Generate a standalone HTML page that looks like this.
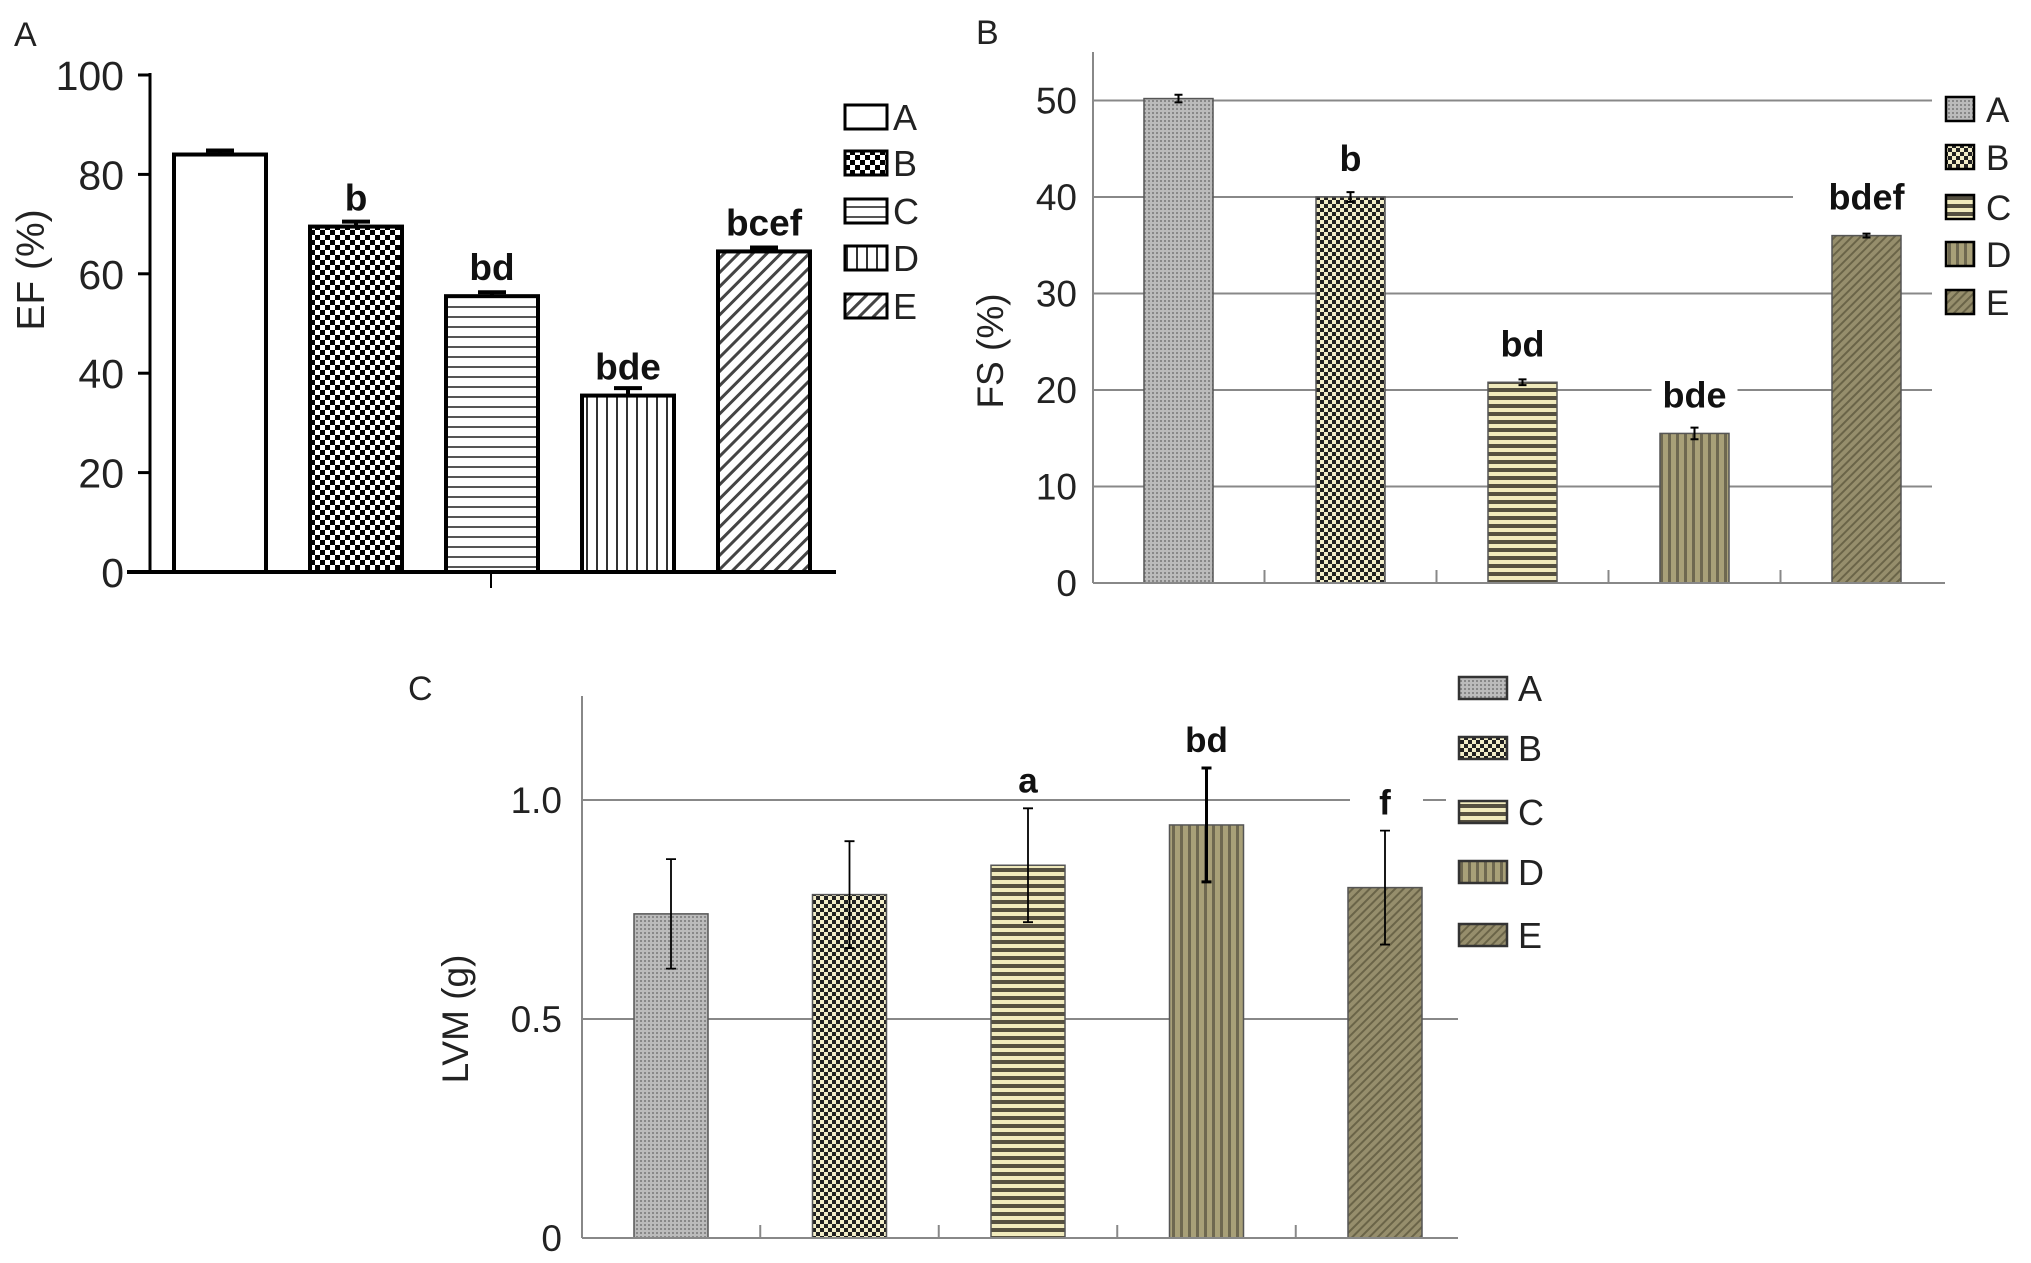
<!DOCTYPE html>
<html><head><meta charset="utf-8"><style>
html,body{margin:0;padding:0;background:#fff;}
svg{display:block;font-family:"Liberation Sans",sans-serif;}
</style></head><body>
<svg id="fig" width="2031" height="1263" viewBox="0 0 2031 1263" xmlns="http://www.w3.org/2000/svg">
<defs>
 <pattern id="pA_B" width="10" height="10" patternUnits="userSpaceOnUse"><rect width="10" height="10" fill="#fff"/><rect width="5" height="5" fill="#000"/><rect x="5" y="5" width="5" height="5" fill="#000"/></pattern>
 <pattern id="pA_C" width="10" height="10" patternUnits="userSpaceOnUse"><rect width="10" height="10" fill="#fff"/><rect y="6" width="10" height="2" fill="#555"/></pattern>
 <pattern id="pA_D" width="10" height="10" patternUnits="userSpaceOnUse"><rect width="10" height="10" fill="#fff"/><rect x="6" width="2" height="10" fill="#333"/></pattern>
 <pattern id="pA_E" width="10" height="10" patternUnits="userSpaceOnUse" patternTransform="rotate(45)"><rect width="10" height="10" fill="#fff"/><rect width="3" height="10" fill="#444"/></pattern>
 <pattern id="pB_A" width="4" height="4" patternUnits="userSpaceOnUse"><rect width="4" height="4" fill="#bbb"/><rect width="2" height="2" fill="#888"/></pattern>
 <pattern id="pB_B" width="8" height="8" patternUnits="userSpaceOnUse"><rect width="8" height="8" fill="#f2edc8"/><rect width="4" height="4" fill="#222"/><rect x="4" y="4" width="4" height="4" fill="#222"/></pattern>
 <pattern id="pB_C" width="8" height="8" patternUnits="userSpaceOnUse"><rect width="8" height="8" fill="#f0eabc"/><rect y="4" width="8" height="4" fill="#555040"/></pattern>
 <pattern id="pB_D" width="8" height="8" patternUnits="userSpaceOnUse"><rect width="8" height="8" fill="#a8a078"/><rect x="4" width="3" height="8" fill="#6e6850"/></pattern>
 <pattern id="pB_E" width="6" height="6" patternUnits="userSpaceOnUse" patternTransform="rotate(45)"><rect width="6" height="6" fill="#968e6c"/><rect width="2" height="6" fill="#6a6448"/></pattern>
</defs>
<g id="gA"></g>
<g id="gB"></g>
<g id="gC"></g>
</svg>
<script>
// ---- data ----
const groups = ["A","B","C","D","E"];
const efValues = [84, 69.5, 55.5, 35.5, 64.5];
const efErrors = [0.8, 1.0, 0.8, 1.5, 0.8];
const efLabels = ["", "b", "bd", "bde", "bcef"];
const efTicks = [0, 20, 40, 60, 80, 100];
const fsValues = [50.2, 40, 20.8, 15.5, 36];
const fsErrors = [0.4, 0.5, 0.3, 0.6, 0.2];
const fsLabels = ["", "b", "bd", "bde", "bdef"];
const fsTicks = [0, 10, 20, 30, 40, 50];
const lvmValues = [0.74, 0.784, 0.851, 0.943, 0.80];
const lvmErrors = [0.125, 0.122, 0.13, 0.13, 0.13];
const lvmLabels = ["", "", "a", "bd", "f"];
const lvmTicks = [0, 0.5, 1.0];
const lvmTickText = ["0", "0.5", "1.0"];

const NS = "http://www.w3.org/2000/svg";
function mk(parent, tag, attrs, text){
  const e = document.createElementNS(NS, tag);
  for (const k in attrs) e.setAttribute(k, attrs[k]);
  if (text !== undefined) e.textContent = text;
  parent.appendChild(e);
  return e;
}

// ---- Panel A ----
(function(){
  const g = document.getElementById('gA');
  const y0 = 572, yTop = 75, vmax = 100;
  const y = v => y0 - (y0 - yTop) * v / vmax;
  const x = i => 174 + i * 136;
  const bw = 92;
  const fills = ["#fff","url(#pA_B)","url(#pA_C)","url(#pA_D)","url(#pA_E)"];
  let t = mk(g,'text',{x:14,y:46,'font-size':34,fill:'#222'},'A');
   
  efTicks.forEach(v=>{
    const l = mk(g,'line',{x1:138,x2:150,y1:y(v),y2:y(v),stroke:'#000','stroke-width':3});
     
    const tx = mk(g,'text',{x:124,y:y(v)+15,'font-size':41,'text-anchor':'end',fill:'#222'},String(v));
     
  });
  let a = mk(g,'line',{x1:150,x2:150,y1:yTop-2,y2:y0,stroke:'#000','stroke-width':3});
   
  a = mk(g,'text',{x:0,y:0,'font-size':39,'text-anchor':'middle',fill:'#222',transform:'translate(44,270) rotate(-90)'},'EF (%)');
   
  efValues.forEach((v,i)=>{
    const r = mk(g,'rect',{x:x(i),y:y(v),width:bw,height:y0-y(v),fill:fills[i],stroke:'#000','stroke-width':4});
     
    const cx = x(i)+bw/2;
    const e = mk(g,'path',{d:`M${cx-14},${y(v+efErrors[i])}H${cx+14}M${cx},${y(v+efErrors[i])}V${y(v)}`,stroke:'#000','stroke-width':4});
     
    if (efLabels[i]) {
      const lb = mk(g,'text',{x:cx,y:y(v)-16,'font-size':37,'font-weight':'bold','text-anchor':'middle',fill:'#111'},efLabels[i]);
       
    }
  });
  a = mk(g,'line',{x1:127,x2:836,y1:y0,y2:y0,stroke:'#000','stroke-width':4});
   
  mk(g,'line',{x1:491,x2:491,y1:y0,y2:588,stroke:'#000','stroke-width':2});
  const ly = [117,163,211,258,306];
  groups.forEach((k,i)=>{
    const b = mk(g,'rect',{x:845,y:ly[i]-12,width:42,height:24,fill:fills[i],stroke:'#000','stroke-width':3});
     
    const lt = mk(g,'text',{x:893,y:ly[i]+13,'font-size':36,fill:'#222'},k);
     
  });
})();

// ---- Panel B ----
(function(){
  const g = document.getElementById('gB');
  const y0 = 583, vmax = 50, yMax = 100.5;
  const y = v => y0 - (y0 - yMax) * v / vmax;
  const x = i => 1144 + i * 172;
  const bw = 69;
  const fills = ["url(#pB_A)","url(#pB_B)","url(#pB_C)","url(#pB_D)","url(#pB_E)"];
  let t = mk(g,'text',{x:976,y:44,'font-size':34,fill:'#222'},'B');
   
  fsTicks.forEach(v=>{
    if (v>0){
      const l = mk(g,'line',{x1:1093,x2:(v===40?1793:1932),y1:y(v),y2:y(v),stroke:'#888','stroke-width':2});
       
    }
    const tx = mk(g,'text',{x:1077,y:y(v)+13,'font-size':37,'text-anchor':'end',fill:'#222'},String(v));
     
  });
  let a = mk(g,'line',{x1:1093,x2:1093,y1:52,y2:y0,stroke:'#888','stroke-width':2});
   
  a = mk(g,'text',{x:0,y:0,'font-size':37,'text-anchor':'middle',fill:'#222',transform:'translate(1003,351) rotate(-90)'},'FS (%)');
   
  fsValues.forEach((v,i)=>{
    const cx = x(i)+bw/2;
    if (fsLabels[i]) {
      const tw = fsLabels[i].length*22+20;
      mk(g,'rect',{x:cx-tw/2,y:y(v)-64,width:tw,height:46,fill:'#fff'});
    }
    const r = mk(g,'rect',{x:x(i),y:y(v),width:bw,height:y0-y(v),fill:fills[i],stroke:'#555','stroke-width':1.5});
     
    const e = mk(g,'path',{d:`M${cx-4},${y(v+fsErrors[i])}H${cx+4}M${cx-4},${y(v-fsErrors[i])}H${cx+4}M${cx},${y(v+fsErrors[i])}V${y(v-fsErrors[i])}`,stroke:'#000','stroke-width':2});
     
    if (fsLabels[i]) {
      const lb = mk(g,'text',{x:cx,y:y(v)-26,'font-size':36,'font-weight':'bold','text-anchor':'middle',fill:'#111'},fsLabels[i]);
       
    }
  });
  a = mk(g,'line',{x1:1093,x2:1945,y1:y0,y2:y0,stroke:'#888','stroke-width':2});
   
  for (let i=0;i<4;i++){ const xt=(x(i)+bw+x(i+1))/2; mk(g,'line',{x1:xt,x2:xt,y1:y0-13,y2:y0,stroke:'#888','stroke-width':2}); }
  const ly = [109,157,207,254,302];
  groups.forEach((k,i)=>{
    mk(g,'rect',{x:1940,y:ly[i]-18,width:40,height:36,fill:'#fff'});
    const b = mk(g,'rect',{x:1946,y:ly[i]-12,width:28,height:24,fill:fills[i],stroke:'#000','stroke-width':2.5});
     
    const lt = mk(g,'text',{x:1986,y:ly[i]+13,'font-size':35,fill:'#222'},k);
     
  });
})();

// ---- Panel C ----
(function(){
  const g = document.getElementById('gC');
  const y0 = 1238, per1 = 438;
  const y = v => y0 - per1 * v;
  const x = i => 634 + i * 178.5;
  const bw = 74;
  const fills = ["url(#pB_A)","url(#pB_B)","url(#pB_C)","url(#pB_D)","url(#pB_E)"];
  let t = mk(g,'text',{x:408,y:700,'font-size':34,fill:'#222'},'C');
   
  lvmTicks.forEach((v,i)=>{
    if (v>0){
      const l = mk(g,'line',{x1:582,x2:(v===1?1350:1458),y1:y(v),y2:y(v),stroke:'#888','stroke-width':2});
       
      if (v===1) mk(g,'line',{x1:1423,x2:1446,y1:y(v),y2:y(v),stroke:'#888','stroke-width':2});
    }
    const tx = mk(g,'text',{x:562,y:y(v)+13,'font-size':37,'text-anchor':'end',fill:'#222'},lvmTickText[i]);
     
  });
  let a = mk(g,'line',{x1:582,x2:582,y1:696,y2:y0,stroke:'#888','stroke-width':2});
   
  a = mk(g,'text',{x:0,y:0,'font-size':37,'text-anchor':'middle',fill:'#222',transform:'translate(468,1019) rotate(-90)'},'LVM (g)');
   
  lvmValues.forEach((v,i)=>{
    const cx = x(i)+bw/2;
    const r = mk(g,'rect',{x:x(i),y:y(v),width:bw,height:y0-y(v),fill:fills[i],stroke:'#555','stroke-width':1.5});
     
    const hi=y(v+lvmErrors[i]), lo=y(v-lvmErrors[i]);
    const e = mk(g,'path',{d:`M${cx-5},${hi}H${cx+5}M${cx-5},${lo}H${cx+5}M${cx},${hi}V${lo}`,stroke:'#000','stroke-width':i===3?3:1.8});
     
    if (lvmLabels[i]) {
      const lb = mk(g,'text',{x:cx,y:hi-16,'font-size':35,'font-weight':'bold','text-anchor':'middle',fill:'#111'},lvmLabels[i]);
       
    }
  });
  a = mk(g,'line',{x1:582,x2:1458,y1:y0,y2:y0,stroke:'#888','stroke-width':2});
   
  for (let i=0;i<4;i++){ const xt=(x(i)+bw+x(i+1))/2; mk(g,'line',{x1:xt,x2:xt,y1:y0-13,y2:y0,stroke:'#888','stroke-width':2}); }
  const ly = [688,748,812,872,935];
  groups.forEach((k,i)=>{
    const b = mk(g,'rect',{x:1459,y:ly[i]-11,width:48,height:22,fill:fills[i],stroke:'#333','stroke-width':2.5});
     
    const lt = mk(g,'text',{x:1518,y:ly[i]+13,'font-size':36,fill:'#222'},k);
     
  });
})();
</script>
</body></html>
